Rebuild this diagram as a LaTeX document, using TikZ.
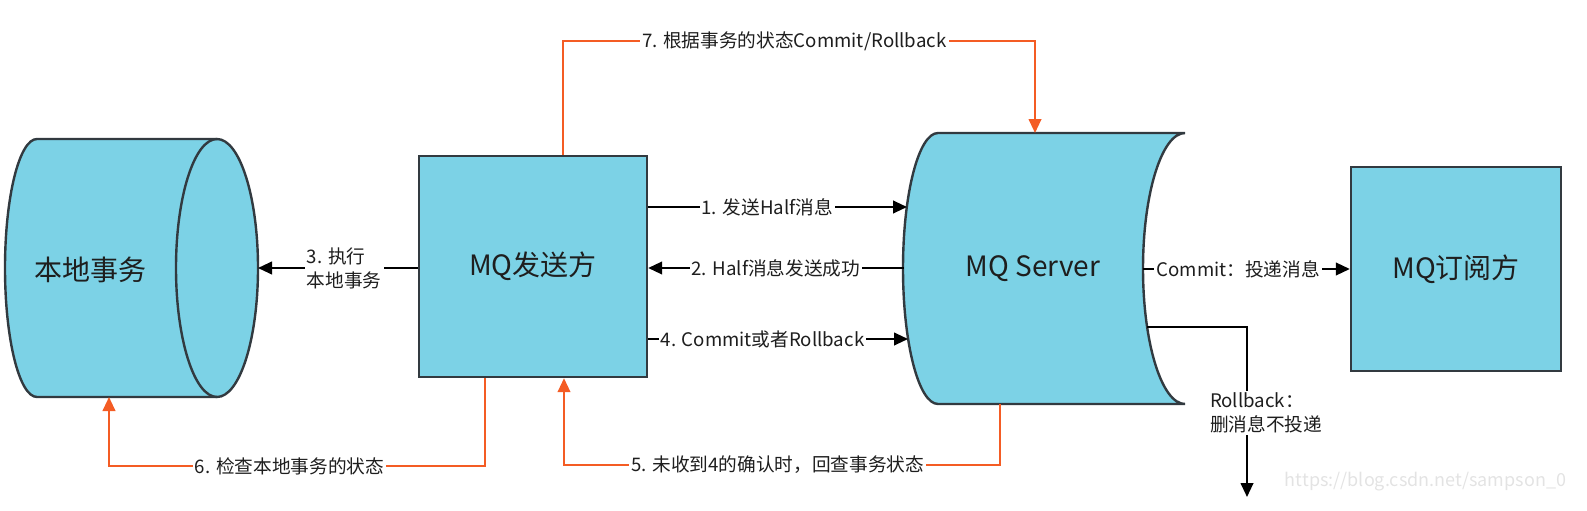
\documentclass[tikz,border=0pt]{standalone}
\usepackage{fontspec}
\setmainfont{Noto Sans CJK SC}
\usetikzlibrary{arrows.meta}
\definecolor{mqblue}{RGB}{124,210,230}
\definecolor{mqedge}{RGB}{50,58,64}
\definecolor{mqorange}{RGB}{244,92,36}
\definecolor{mqtext}{RGB}{30,30,30}
\tikzset{every picture/.style={line width=0.75pt}}
\tikzset{
  mqbox/.style={draw=mqedge,fill=mqblue,line width=1.8pt,text=mqtext,font=\fontsize{21}{25}\selectfont},
  mqshape/.style={draw=mqedge,fill=mqblue,line width=1.8pt},
  bigtext/.style={text=mqtext,font=\fontsize{21}{25}\selectfont},
  msgline/.style={line width=1.5pt,-{Triangle[length=10.5pt,width=9.5pt]}},
  backline/.style={mqorange,line width=1.5pt,-{Triangle[length=10.5pt,width=9.5pt]}},
  msglabel/.style={fill=white,inner sep=1.5pt,text=mqtext,font=\fontsize{14}{18}\selectfont},
}

\begin{document}
\begin{tikzpicture}[x=0.75pt,y=0.75pt,yscale=-1,xscale=1]
\path (0,0) rectangle (1587,510); %diagram frame

%Shape: Can [id:ldb]
\draw [mqshape] (37,139) -- (217,139) arc[start angle=270,end angle=450,x radius=41,y radius=129] -- (37,397) arc[start angle=90,end angle=270,x radius=32,y radius=129] -- cycle ;
\draw [draw=mqedge,line width=1.8pt] (217,139) arc[start angle=270,end angle=90,x radius=41,y radius=129] ;
\node (ldb) [bigtext] at (90,270) {本地事务};
\coordinate (ldb-e) at (258,268);
\coordinate (ldb-s) at (109,397);
%Shape: Rectangle [id:msend]
\node (msend) [mqbox,minimum width=171pt,minimum height=165.75pt] at (533,266.5) {MQ发送方};
%Shape: Rectangle [id:msub]
\node (msub) [mqbox,minimum width=157.5pt,minimum height=153pt] at (1456,269) {MQ订阅方};
%Shape: Stored Data [id:srv]
\draw [mqshape] (938,133) -- (1185,133) arc[start angle=270,end angle=90,x radius=42,y radius=135.5] -- (938,404) arc[start angle=90,end angle=270,x radius=35,y radius=135.5] -- cycle ;
\node (srv) [bigtext] at (1033,269) {MQ Server};
\coordinate (srv-in1) at (907,207);
\coordinate (srv-in2) at (903.5,268);
\coordinate (srv-in4) at (908,339);
\coordinate (srv-out1) at (1143,269);
\coordinate (srv-out2) at (1147,327);
\coordinate (srv-top) at (1035,133);
\coordinate (srv-bot) at (1000,404);

% Black arrows
\draw [msgline] (msend.east |- srv-in1) -- node[msglabel,pos=0.46]{1. 发送Half消息} (srv-in1);
\draw [msgline] (srv-in2) -- node[msglabel,pos=0.5]{2. Half消息发送成功} (msend.east |- srv-in2);
\draw [msgline] (msend.west |- ldb-e) -- node[msglabel,align=left,pos=0.46]{3. 执行\\本地事务} (ldb-e);
\draw [msgline] (msend.east |- srv-in4) -- node[msglabel,pos=0.44]{4. Commit或者Rollback} (srv-in4);
\draw [msgline] (srv-out1) -- node[msglabel,pos=0.46]{Commit：投递消息} (msub.west |- srv-out1);
\coordinate (rbk-end) at (1247,497);
\draw [msgline] (srv-out2) -| (rbk-end);
\node (rbk) [msglabel,align=left] at (1266,413) {Rollback：\\删消息不投递};

% Orange arrows
\coordinate (c7a) at (563,41);
\coordinate (c7b) at (1035,41);
\draw [backline] (msend.north -| c7a) -- (c7a) -- node[msglabel,pos=0.49]{7. 根据事务的状态Commit/Rollback} (c7b) -- (srv-top);
\coordinate (c6a) at (485,466);
\coordinate (c6b) at (109,466);
\draw [backline] (msend.south -| c6a) -- (c6a) -- node[msglabel,pos=0.52]{6. 检查本地事务的状态} (c6b) -- (ldb-s);
\coordinate (c5a) at (1000,465);
\coordinate (c5b) at (564,465);
\draw [backline] (srv-bot) -- (c5a) -- node[msglabel,pos=0.51]{5. 未收到4的确认时，回查事务状态} (c5b) -- (c5b |- msend.south);

\node (wmark) [anchor=west,text=gray!22,font=\fontsize{13.5}{16}\selectfont] at (1280,482) {https://blog.csdn.net/sampson\_0};
\end{tikzpicture}
\end{document}
